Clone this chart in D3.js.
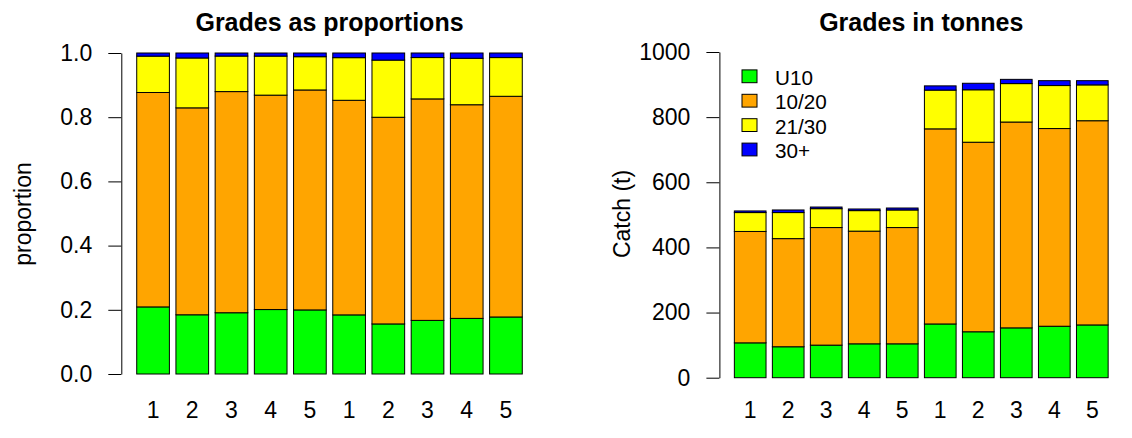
<!DOCTYPE html>
<html>
<head>
<meta charset="utf-8">
<script src="https://cdn.jsdelivr.net/npm/d3@7/dist/d3.min.js"></script>
<style>
  html, body { margin: 0; padding: 0; background: #fff; }
  svg { display: block; font-family: "Liberation Sans", Arial, Helvetica, sans-serif; }
</style>
</head>
<body>
<svg id="chart" width="1132" height="438"></svg>
<script>
// Catch by grade for ten periods (tonnes)
const categories = ["1", "2", "3", "4", "5", "1", "2", "3", "4", "5"];
const grades = ["U10", "10/20", "21/30", "30+"];
const gradeColors = ["#00ff00", "#ffa500", "#ffff00", "#0000ff"];
const u10 = [107, 95, 100, 104, 104, 165, 141, 153, 158, 162];
const g1020 = [342, 332, 361, 346, 357, 599, 582, 632, 607, 627];
const g2130 = [58, 80, 58, 63, 54, 119, 161, 118, 132, 110];
const g30plus = [5, 8, 5, 5, 6, 13, 20, 13, 15, 13];
const propTicks = [0, 0.2, 0.4, 0.6, 0.8, 1.0];
const tonneTicks = [0, 200, 400, 600, 800, 1000];

const series = [u10, g1020, g2130, g30plus];
const totals = categories.map((_, i) => series.reduce((s, arr) => s + arr[i], 0));

// rows for d3.stack: one object per bar, keyed by grade
const tonneRows = categories.map((c, i) => {
  const row = { idx: i };
  grades.forEach((g, k) => { row[g] = series[k][i]; });
  return row;
});
const propRows = tonneRows.map((r, i) => {
  const row = { idx: i };
  grades.forEach(g => { row[g] = r[g] / totals[i]; });
  return row;
});

const stack = d3.stack().keys(grades);
const svg = d3.select("#chart");
const FONT = 23;
const LEGEND_FONT = 20.7;

function panel(opts) {
  const { rows, yDomain, yRange, ticks, tickFmt, xRange, title, ylab, ylabX, tickPad } = opts;
  // bar layout: each bar width 1, gap 0.2, axis range padded 4%
  const x = d3.scaleLinear().domain([-0.272, 12.472]).range(xRange);
  const y = d3.scaleLinear().domain(yDomain).range(yRange);
  const g = svg.append("g");
  const layers = stack(rows);

  g.selectAll("g.layer").data(layers).join("g")
    .attr("class", "layer")
    .attr("fill", (d, k) => gradeColors[k])
    .selectAll("rect").data(d => d).join("rect")
      .attr("x", d => x(0.2 + 1.2 * d.data.idx))
      .attr("width", d => x(1.2 + 1.2 * d.data.idx) - x(0.2 + 1.2 * d.data.idx))
      .attr("y", d => y(d[1]))
      .attr("height", d => y(d[0]) - y(d[1]))
      .attr("stroke", "#000")
      .attr("stroke-width", 1);

  // category labels under bars
  g.selectAll("text.cat").data(categories).join("text")
    .attr("class", "cat")
    .attr("x", (d, i) => x(0.7 + 1.2 * i))
    .attr("y", 410)
    .attr("text-anchor", "middle")
    .attr("dominant-baseline", "central")
    .attr("font-size", FONT)
    .text(d => d);

  // y axis
  const axis = d3.axisLeft(y).tickValues(ticks).tickFormat(tickFmt)
    .tickSize(13).tickSizeOuter(0).tickPadding(tickPad);
  const ax = g.append("g").attr("transform", `translate(${xRange[0]},0)`).call(axis);
  ax.select(".domain").attr("stroke", "#000");
  ax.selectAll(".tick line").attr("stroke", "#000");
  ax.selectAll(".tick text").attr("font-size", FONT).attr("fill", "#000")
    .attr("font-family", "Liberation Sans, Arial, Helvetica, sans-serif");

  // y axis title
  g.append("text")
    .attr("transform", `translate(${ylabX},214) rotate(-90)`)
    .attr("text-anchor", "middle")
    .attr("dominant-baseline", "central")
    .attr("font-size", FONT)
    .text(ylab);

  // panel title
  g.append("text")
    .attr("x", (xRange[0] + xRange[1]) / 2)
    .attr("y", 22)
    .attr("text-anchor", "middle")
    .attr("dominant-baseline", "central")
    .attr("font-size", 25)
    .attr("font-weight", "bold")
    .text(title);

  return { x, y, g };
}

panel({
  rows: propRows, yDomain: [0, 1], yRange: [374, 53], ticks: propTicks,
  tickFmt: d3.format(".1f"), xRange: [121.3, 537.7],
  title: "Grades as proportions", ylab: "proportion", ylabX: 23, tickPad: 16
});

const right = panel({
  rows: tonneRows, yDomain: [0, 1000], yRange: [377.7, 52], ticks: tonneTicks,
  tickFmt: d3.format("d"), xRange: [719.4, 1123.1],
  title: "Grades in tonnes", ylab: "Catch (t)", ylabX: 622, tickPad: 16
});

// legend, top-left inside the tonnes panel
const legend = right.g.append("g");
const rowsL = legend.selectAll("g").data(grades).join("g")
  .attr("transform", (d, i) => `translate(742,${76.3 + 24.4 * i})`);
rowsL.append("rect")
  .attr("x", 0).attr("y", -6.4).attr("width", 15).attr("height", 12.8)
  .attr("fill", (d, i) => gradeColors[i])
  .attr("stroke", "#000").attr("stroke-width", 1);
rowsL.append("text")
  .attr("x", 33).attr("y", 1.2)
  .attr("dominant-baseline", "central")
  .attr("font-size", LEGEND_FONT)
  .text(d => d);
</script>
</body>
</html>
